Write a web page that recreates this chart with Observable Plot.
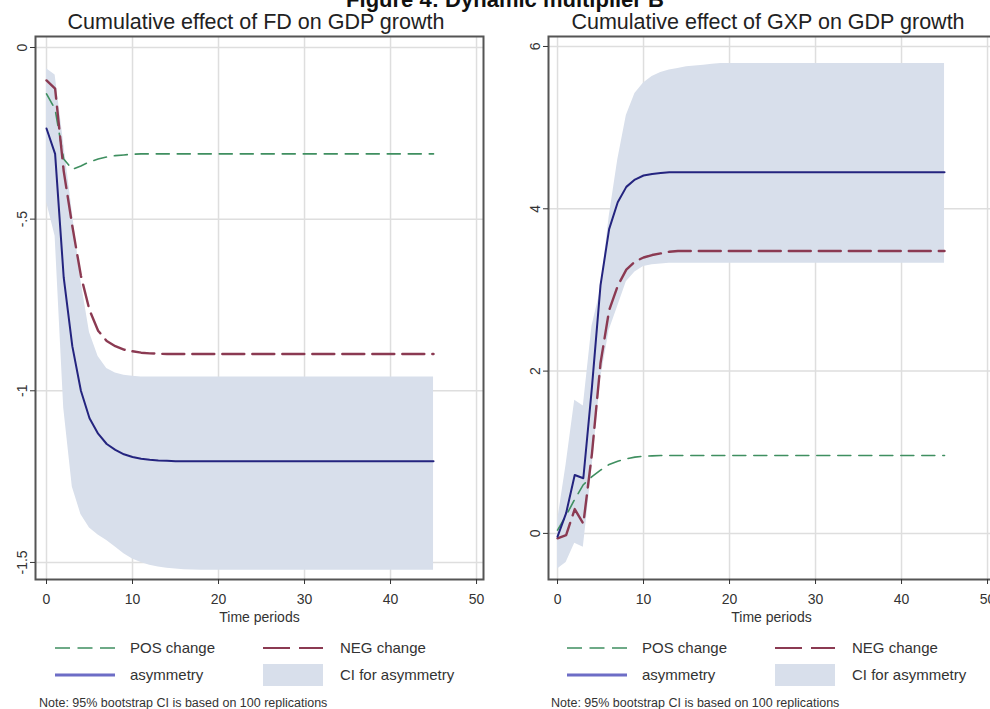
<!DOCTYPE html>
<html>
<head>
<meta charset="utf-8">
<script src="https://cdn.jsdelivr.net/npm/d3@7"></script>
<script src="https://cdn.jsdelivr.net/npm/@observablehq/plot@0.6"></script>
<style>
html, body { margin: 0; padding: 0; background: #fff; }
body { width: 990px; height: 709px; overflow: hidden; position: relative; font-family: "Liberation Sans", Arial, sans-serif; color: #222; }
.abs { position: absolute; overflow: visible; }
.abs svg { max-width: none !important; display: block; }
.figtitle { position: absolute; left: 505px; top: -11px; font-size: 22px; line-height: 22px; font-weight: bold; white-space: nowrap; transform: translateX(-50%); color: #111; }
.ptitle { position: absolute; top: 12px; font-size: 21.5px; line-height: 21px; white-space: nowrap; transform: translateX(-50%); color: #222; }
.leg { position: absolute; height: 20px; line-height: 20px; font-size: 15px; white-space: nowrap; color: #333; }
.note { position: absolute; top: 696px; font-size: 12.5px; line-height: 14px; white-space: nowrap; color: #333; }
</style>
</head>
<body>
<div class="figtitle">Figure 4: Dynamic multiplier B</div>
<div class="ptitle" style="left:256px">Cumulative effect of FD on GDP growth</div>
<div class="ptitle" style="left:768px">Cumulative effect of GXP on GDP growth</div>
<div id="left" class="abs" style="left:0px;top:0px;width:500px;height:630px"></div>
<div id="right" class="abs" style="left:500px;top:0px;width:510px;height:630px"></div>
<div id="legends"></div>
<script>
// ---- Data ----
const periods = [0,1,2,3,4,5,6,7,8,9,10,11,12,13,14,15,16,17,18,19,20,21,22,23,24,25,26,27,28,29,30,31,32,33,34,35,36,37,38,39,40,41,42,43,44,45];

// FD panel
const fdPos = [-0.135,-0.18,-0.325,-0.355,-0.345,-0.333,-0.325,-0.319,-0.315,-0.313,-0.311,
  -0.31,-0.31,-0.31,-0.31,-0.31,-0.31,-0.31,-0.31,-0.31,-0.31,-0.31,-0.31,-0.31,-0.31,-0.31,-0.31,-0.31,-0.31,-0.31,-0.31,-0.31,-0.31,-0.31,-0.31,-0.31,-0.31,-0.31,-0.31,-0.31,-0.31,-0.31,-0.31,-0.31,-0.31,-0.31];
const fdNeg = [-0.096,-0.12,-0.36,-0.52,-0.665,-0.765,-0.825,-0.855,-0.87,-0.88,-0.885,-0.889,-0.891,-0.892,
  -0.893,-0.893,-0.893,-0.893,-0.893,-0.893,-0.893,-0.893,-0.893,-0.893,-0.893,-0.893,-0.893,-0.893,-0.893,-0.893,-0.893,-0.893,-0.893,-0.893,-0.893,-0.893,-0.893,-0.893,-0.893,-0.893,-0.893,-0.893,-0.893,-0.893,-0.893,-0.893];
const fdAsym = [-0.236,-0.31,-0.67,-0.87,-1.0,-1.08,-1.125,-1.155,-1.172,-1.185,-1.193,-1.198,-1.201,-1.203,-1.204,
  -1.205,-1.205,-1.205,-1.205,-1.205,-1.205,-1.205,-1.205,-1.205,-1.205,-1.205,-1.205,-1.205,-1.205,-1.205,-1.205,-1.205,-1.205,-1.205,-1.205,-1.205,-1.205,-1.205,-1.205,-1.205,-1.205,-1.205,-1.205,-1.205,-1.205,-1.205];
const fdUpper = [-0.062,-0.08,-0.28,-0.48,-0.68,-0.83,-0.9,-0.935,-0.948,-0.955,-0.958,
  -0.96,-0.96,-0.96,-0.96,-0.96,-0.96,-0.96,-0.96,-0.96,-0.96,-0.96,-0.96,-0.96,-0.96,-0.96,-0.96,-0.96,-0.96,-0.96,-0.96,-0.96,-0.96,-0.96,-0.96,-0.96,-0.96,-0.96,-0.96,-0.96,-0.96,-0.96,-0.96,-0.96,-0.96,-0.96];
const fdLower = [-0.45,-0.55,-1.05,-1.28,-1.36,-1.40,-1.42,-1.436,-1.455,-1.475,-1.49,-1.5,-1.508,-1.513,-1.517,-1.519,-1.521,-1.522,
  -1.523,-1.523,-1.523,-1.523,-1.523,-1.523,-1.523,-1.523,-1.523,-1.523,-1.523,-1.523,-1.523,-1.523,-1.523,-1.523,-1.523,-1.523,-1.523,-1.523,-1.523,-1.523,-1.523,-1.523,-1.523,-1.523,-1.523,-1.523];
const fdTicks = [0, -0.5, -1, -1.5];
const fdTickLabels = ["0", "-.5", "-1", "-1.5"];

// GXP panel
const gxPos = [0.04,0.22,0.42,0.6,0.7,0.78,0.85,0.89,0.92,0.94,0.95,0.955,
  0.96,0.96,0.96,0.96,0.96,0.96,0.96,0.96,0.96,0.96,0.96,0.96,0.96,0.96,0.96,0.96,0.96,0.96,0.96,0.96,0.96,0.96,0.96,0.96,0.96,0.96,0.96,0.96,0.96,0.96,0.96,0.96,0.96,0.96];
const gxNeg = [-0.06,-0.02,0.3,0.12,0.98,2.1,2.75,3.05,3.25,3.35,3.4,3.43,3.45,3.47,
  3.48,3.48,3.48,3.48,3.48,3.48,3.48,3.48,3.48,3.48,3.48,3.48,3.48,3.48,3.48,3.48,3.48,3.48,3.48,3.48,3.48,3.48,3.48,3.48,3.48,3.48,3.48,3.48,3.48,3.48,3.48,3.48];
const gxAsym = [-0.04,0.25,0.72,0.68,1.8,3.06,3.75,4.08,4.27,4.36,4.41,4.43,4.44,
  4.45,4.45,4.45,4.45,4.45,4.45,4.45,4.45,4.45,4.45,4.45,4.45,4.45,4.45,4.45,4.45,4.45,4.45,4.45,4.45,4.45,4.45,4.45,4.45,4.45,4.45,4.45,4.45,4.45,4.45,4.45,4.45,4.45];
const gxUpper = [0.15,0.85,1.64,1.57,2.55,3.0,3.9,4.6,5.15,5.42,5.55,5.63,5.68,5.71,5.73,5.75,5.76,5.77,5.78,
  5.79,5.79,5.79,5.79,5.79,5.79,5.79,5.79,5.79,5.79,5.79,5.79,5.79,5.79,5.79,5.79,5.79,5.79,5.79,5.79,5.79,5.79,5.79,5.79,5.79,5.79,5.79];
const gxLower = [-0.44,-0.36,-0.12,-0.17,0.8,1.9,2.5,2.8,3.1,3.22,3.29,3.31,3.32,
  3.33,3.33,3.33,3.33,3.33,3.33,3.33,3.33,3.33,3.33,3.33,3.33,3.33,3.33,3.33,3.33,3.33,3.33,3.33,3.33,3.33,3.33,3.33,3.33,3.33,3.33,3.33,3.33,3.33,3.33,3.33,3.33,3.33];
const gxTicks = [0, 2, 4, 6];
const gxTickLabels = ["0", "2", "4", "6"];

const xTicks = [0, 10, 20, 30, 40, 50];
const legendLabels = ["POS change", "NEG change", "asymmetry", "CI for asymmetry"];
const noteText = "Note: 95% bootstrap CI is based on 100 replications";

// ---- Styles ----
const C = {pos: "#3f8f60", neg: "#8b3a52", asym: "#24247f", ci: "#d8dfeb", grid: "#dedede", frame: "#555", text: "#333"};

function rowsOf(pos, neg, asym, upper, lower) {
  return periods.map((t, i) => ({t, pos: pos[i], neg: neg[i], asym: asym[i], upper: upper[i], lower: lower[i]}));
}

function panel({rows, xDomain, yDomain, yTicks, yLabels, width, marginLeft, marginRight}) {
  const lab = new Map(yTicks.map((v, i) => [v, yLabels[i]]));
  return Plot.plot({
    width, height: 630,
    marginLeft, marginRight, marginTop: 36, marginBottom: 51,
    style: {fontFamily: "'Liberation Sans', Arial, sans-serif", fontSize: "14px", background: "transparent", color: C.text, maxWidth: "none"},
    x: {domain: xDomain},
    y: {domain: yDomain},
    marks: [
      Plot.gridX({ticks: xTicks, stroke: C.grid, strokeOpacity: 1, strokeWidth: 1.5}),
      Plot.gridY({ticks: yTicks, stroke: C.grid, strokeOpacity: 1, strokeWidth: 1.5}),
      Plot.areaY(rows, {x: "t", y1: "lower", y2: "upper", fill: C.ci, fillOpacity: 1}),
      Plot.lineY(rows, {x: "t", y: "pos", stroke: C.pos, strokeWidth: 1.6, strokeDasharray: "13,8"}),
      Plot.lineY(rows, {x: "t", y: "neg", stroke: C.neg, strokeWidth: 2.4, strokeDasharray: "22,8"}),
      Plot.lineY(rows, {x: "t", y: "asym", stroke: C.asym, strokeWidth: 2}),
      Plot.frame({stroke: C.frame, strokeWidth: 2}),
      Plot.axisX({ticks: xTicks, tickSize: 5, tickPadding: 10, stroke: C.text, label: "Time periods", labelAnchor: "center", labelOffset: 42, labelArrow: "none"}),
      Plot.axisY({ticks: yTicks, tickSize: 5, tickRotate: -90, tickFormat: d => lab.get(d), stroke: C.text, label: null})
    ]
  });
}

// Left: x pixel 35..483 ; y pixel 36..579
document.getElementById("left").appendChild(panel({
  rows: rowsOf(fdPos, fdNeg, fdAsym, fdUpper, fdLower),
  xDomain: [-1.28, 50.81], yDomain: [-1.5497, 0.032],
  yTicks: fdTicks, yLabels: fdTickLabels,
  width: 500, marginLeft: 35, marginRight: 17
}));
// Right: x pixel 548..994 (page) ; svg starts at 500
document.getElementById("right").appendChild(panel({
  rows: rowsOf(gxPos, gxNeg, gxAsym, gxUpper, gxLower),
  xDomain: [-1.05, 50.81], yDomain: [-0.568, 6.123],
  yTicks: gxTicks, yLabels: gxTickLabels,
  width: 510, marginLeft: 48, marginRight: 16
}));

// ---- Legends & notes ----
const legendsDiv = document.getElementById("legends");
function swatch(x, y, kind) {
  const ns = "http://www.w3.org/2000/svg";
  const s = document.createElementNS(ns, "svg");
  s.setAttribute("width", 60); s.setAttribute("height", 24);
  s.style.position = "absolute"; s.style.left = x + "px"; s.style.top = (y - 12) + "px";
  if (kind === "ci") {
    const r = document.createElementNS(ns, "rect");
    r.setAttribute("x", 0); r.setAttribute("y", 1); r.setAttribute("width", 60); r.setAttribute("height", 22);
    r.setAttribute("fill", C.ci);
    s.appendChild(r);
  } else {
    const l = document.createElementNS(ns, "line");
    l.setAttribute("x1", 0); l.setAttribute("x2", 60); l.setAttribute("y1", 12); l.setAttribute("y2", 12);
    if (kind === "pos") { l.setAttribute("stroke", C.pos); l.setAttribute("stroke-width", 1.6); l.setAttribute("stroke-dasharray", "15,7.5"); }
    if (kind === "neg") { l.setAttribute("stroke", C.neg); l.setAttribute("stroke-width", 1.8); l.setAttribute("stroke-dasharray", "27,9"); }
    if (kind === "asym") { l.setAttribute("stroke", "#6d6dc6"); l.setAttribute("stroke-width", 3); }
    s.appendChild(l);
  }
  legendsDiv.appendChild(s);
}
function label(x, y, text) {
  const d = document.createElement("div");
  d.className = "leg"; d.style.left = x + "px"; d.style.top = (y - 10) + "px";
  d.textContent = text;
  legendsDiv.appendChild(d);
}
[0, 512].forEach(ox => {
  swatch(55 + ox, 648, "pos");  label(130 + ox, 648, legendLabels[0]);
  swatch(263 + ox, 648, "neg"); label(340 + ox, 648, legendLabels[1]);
  swatch(55 + ox, 675, "asym"); label(130 + ox, 675, legendLabels[2]);
  swatch(263 + ox, 675, "ci");  label(340 + ox, 675, legendLabels[3]);
  const n = document.createElement("div");
  n.className = "note"; n.style.left = (39 + ox) + "px"; n.textContent = noteText;
  legendsDiv.appendChild(n);
});
</script>
</body>
</html>
